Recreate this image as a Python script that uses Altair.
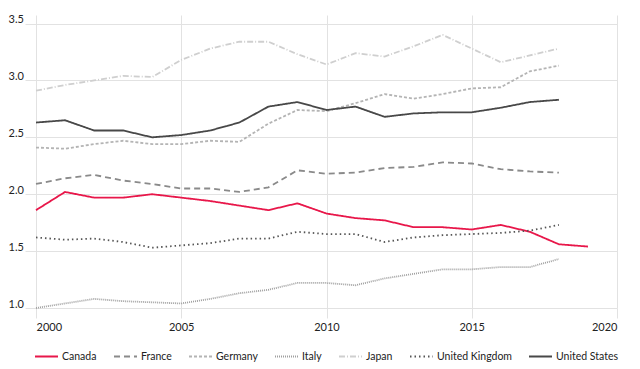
import altair as alt
import pandas as pd

years = list(range(2000, 2020))

canada = [1.86, 2.02, 1.97, 1.97, 2.00, 1.97, 1.94, 1.90, 1.86, 1.92, 1.83, 1.79, 1.77, 1.71, 1.71, 1.69, 1.73, 1.67, 1.56, 1.54]
france = [2.09, 2.14, 2.17, 2.12, 2.09, 2.05, 2.05, 2.02, 2.06, 2.21, 2.18, 2.19, 2.23, 2.24, 2.28, 2.27, 2.22, 2.20, 2.19]
germany = [2.41, 2.40, 2.44, 2.47, 2.44, 2.44, 2.47, 2.46, 2.62, 2.74, 2.73, 2.80, 2.88, 2.84, 2.88, 2.93, 2.94, 3.08, 3.13]
italy = [1.00, 1.04, 1.08, 1.06, 1.05, 1.04, 1.08, 1.13, 1.16, 1.22, 1.22, 1.20, 1.26, 1.30, 1.34, 1.34, 1.36, 1.36, 1.43]
japan = [2.91, 2.96, 3.00, 3.04, 3.03, 3.18, 3.28, 3.34, 3.34, 3.23, 3.14, 3.24, 3.21, 3.30, 3.40, 3.28, 3.16, 3.22, 3.28]
uk = [1.62, 1.60, 1.61, 1.58, 1.53, 1.55, 1.57, 1.61, 1.61, 1.67, 1.65, 1.65, 1.58, 1.62, 1.64, 1.65, 1.66, 1.68, 1.73]
us = [2.63, 2.65, 2.56, 2.56, 2.50, 2.52, 2.56, 2.63, 2.77, 2.81, 2.74, 2.77, 2.68, 2.71, 2.72, 2.72, 2.76, 2.81, 2.83]

countries = ["Canada", "France", "Germany", "Italy", "Japan", "United Kingdom", "United States"]
series = [canada, france, germany, italy, japan, uk, us]
colors = ["#e8174a", "#8a8a8a", "#b4b4b4", "#a0a0a0", "#cfcfcf", "#555555", "#484848"]
dashes = [[1, 0], [6, 4], [3, 2], [1, 1], [6, 2, 1, 2], [1.5, 3], [1, 0]]

x_ticks = [2000, 2005, 2010, 2015, 2020]
y_ticks = [1.0, 1.5, 2.0, 2.5, 3.0, 3.5]

rows = []
for name, vals in zip(countries, series):
    for yr, v in zip(years, vals):
        rows.append({"country": name, "year": yr, "value": v})
df = pd.DataFrame(rows)

FONT = "Lato"
GRID = "#e2e2e2"


def make_legend():
    return alt.Legend(
        title=None, orient="none", legendX=-2, legendY=329,
        direction="horizontal", gridAlign="none",
        symbolType="stroke", symbolSize=529, symbolStrokeWidth=1.8,
        labelFontSize=10.5, labelFont=FONT, labelColor="#222222",
        labelOffset=3, columnPadding=13,
    )


chart = (
    alt.Chart(df)
    .mark_line(strokeWidth=1.8)
    .encode(
        x=alt.X(
            "year:Q",
            scale=alt.Scale(domain=[2000, 2020], nice=False),
            axis=alt.Axis(
                values=x_ticks, format="d", title=None, grid=True, gridColor=GRID,
                domain=False, tickSize=10, tickColor=GRID, labelPadding=3,
                labelFontSize=11, labelColor="#222222", labelFont=FONT,
            ),
        ),
        y=alt.Y(
            "value:Q",
            scale=alt.Scale(domain=[1.0, 3.575], nice=False, zero=False),
            axis=alt.Axis(
                values=y_ticks, format=".1f", title=None, grid=True, gridColor=GRID,
                domain=False, tickSize=11, tickColor=GRID, labelAlign="left",
                labelPadding=17, labelBaseline="alphabetic", labelOffset=-1,
                labelFontSize=11, labelColor="#222222", labelFont=FONT,
            ),
        ),
        color=alt.Color(
            "country:N",
            scale=alt.Scale(domain=countries, range=colors),
            legend=make_legend(),
        ),
        strokeDash=alt.StrokeDash(
            "country:N",
            scale=alt.Scale(domain=countries, range=dashes),
            legend=make_legend(),
        ),
        detail="country:N",
    )
    .properties(
        width=581,
        height=293,
        autosize=alt.AutoSizeParams(type="none"),
        padding={"left": 28, "top": 7, "right": 15, "bottom": 60},
    )
    .configure_view(stroke=None)
)

chart.save("out.html", embed_options={"renderer": "svg", "actions": False})
